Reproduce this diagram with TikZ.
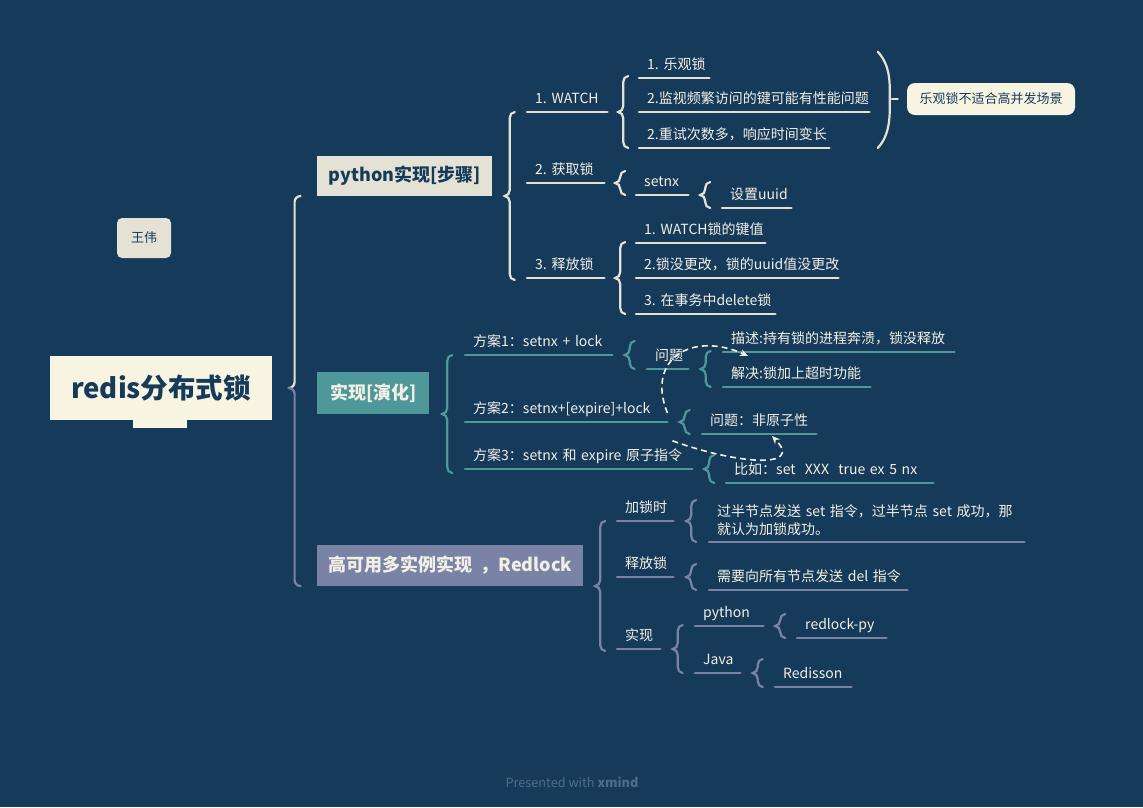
\documentclass[tikz,border=0pt]{standalone}
\usepackage{fontspec}
\setmainfont{Noto Sans CJK SC}
\usetikzlibrary{arrows.meta, calc, positioning}
\definecolor{bg}{HTML}{163B5A}
\definecolor{paper}{HTML}{F8F4E2}
\definecolor{sand}{HTML}{E4E1D5}
\definecolor{mmteal}{HTML}{4E9899}
\definecolor{lav}{HTML}{7A83A5}
\definecolor{ink}{HTML}{163B5A}
\definecolor{chalk}{HTML}{F2F0E6}
\definecolor{foot}{HTML}{4D6D8B}
\tikzstyle{topic} = [inner sep=0pt, font=\fontsize{18}{22}\selectfont\bfseries]
\tikzstyle{link} = [line width=1.6pt, chalk, dash pattern=on 6pt off 4pt, -{Stealth[length=8pt,width=7pt]}]
\tikzset{leaf/.style 2 args={anchor=south west, inner xsep=8pt, inner ysep=6pt, text depth=2pt, text width=#1-16pt, align=left, text=chalk, font=\fontsize{14}{18}\selectfont, append after command={(\tikzlastnode.south west) edge[draw=#2, line width=2.4pt, line cap=round] (\tikzlastnode.south east)}}}
\tikzset{br/.style={draw=#1, line width=2.2pt, line cap=round}}
% curly brace: colour, parent anchor, first child, last child
\newcommand\mmbrace[4]{%
  \draw[br=#1] let \p1=(#3.south west), \p2=(#4.south west), \p3=(#2),
    \n1={max(\y1,2*\y3-\y2)}, \n2={min(\y2,2*\y3-\y1)}, \n3={(\x1+\x3)/2} in
    (\n3+5pt,\n1+0pt) to[out=180,in=90] (\n3+0pt,\n1-6pt) -- (\n3+0pt,\y3+6pt)
    to[out=-90,in=0] (\n3-5pt,\y3) to[out=0,in=90] (\n3+0pt,\y3-6pt)
    -- (\n3+0pt,\n2+6pt) to[out=-90,in=180] (\n3+5pt,\n2+0pt);}

\begin{document}
\begin{tikzpicture}[x=1pt, y=-1pt]
\fill[bg] (0,0) rectangle (1143,807);

% central topic
\node[fill=paper, text=ink, font=\fontsize{27.5}{31}\selectfont\bfseries, minimum width=222, minimum height=64, inner sep=0pt] (root) at (161,388) {redis分布式锁};
\fill[paper] ($(root.south)+(-28,-2)$) rectangle ($(root.south)+(26,8)$);
\node[fill=sand, text=ink, rounded corners=5pt, minimum width=54, minimum height=40, font=\fontsize{13}{15}\selectfont] (auth) at (144,238) {王伟};

% main topics
\node[topic, fill=sand, text=ink, anchor=south west, minimum width=175, minimum height=40] (py) at (317,196) {python实现[步骤]};
\node[topic, fill=mmteal, text=chalk, anchor=south west, minimum width=112, minimum height=42] (impl) at (317,414) {实现[演化]};
\node[topic, fill=lav, text=chalk, anchor=south west, minimum width=266, minimum height=41] (rl) at (317,586) {高可用多实例实现\ \ ，Redlock};

\draw[br=sand] let \p1=(root.east), \p2=(py.south west), \n1={(\x1+\x2)/2} in
  (\n1+6pt,\y2) to[out=180,in=90] (\n1+0pt,\y2-6pt) -- (\n1+0pt,\y1+6pt) to[out=-90,in=0] (\n1-6pt,\y1);
\draw[br=lav] let \p1=(root.east), \p2=(rl.south west), \n1={(\x1+\x2)/2} in
  (\n1-6pt,\y1) to[out=0,in=90] (\n1+0pt,\y1-6pt) -- (\n1+0pt,\y2+6pt) to[out=-90,in=180] (\n1+6pt,\y2);

% python steps
\node[leaf={80}{sand}] (watch) at (527,112) {1.~WATCH};
\node[leaf={77}{sand}] (getlk) at (527,183) {2.~获取锁};
\node[leaf={77}{sand}] (rellk) at (527,278) {3.~释放锁};
\node[leaf={70}{sand}] (w1) at (639,78) {1.~乐观锁};
\node[leaf={230}{sand}] (w2) at (639,112) {2.监视频繁访问的键可能有性能问题};
\node[leaf={190}{sand}] (w3) at (639,148) {2.重试次数多，响应时间变长};
\node[leaf={52}{sand}] (setnx) at (636,195) {setnx};
\node[leaf={69}{sand}] (uuid) at (722,208) {设置uuid};
\node[leaf={129}{sand}] (r1) at (636,243) {1.~WATCH锁的键值};
\node[leaf={202}{sand}] (r2) at (636,278) {2.锁没更改，锁的uuid值没更改};
\node[leaf={139}{sand}] (r3) at (636,314) {3.~在事务中delete锁};
\node[fill=paper, text=ink, rounded corners=8pt, minimum width=168, minimum height=32, inner sep=0pt, font=\fontsize{13}{15}\selectfont] (sum) at (991,99) {乐观锁不适合高并发场景};

\mmbrace{sand}{py.south east}{watch}{rellk}
\mmbrace{sand}{watch.south east}{w1}{w3}
\mmbrace{sand}{getlk.south east}{setnx}{setnx}
\mmbrace{sand}{setnx.south east}{uuid}{uuid}
\mmbrace{sand}{rellk.south east}{r1}{r3}
\draw[br=sand] let \p1=(w1.north), \p2=(w3.south), \p3=(sum.west) in
  (\x3-29pt,\y1) .. controls (\x3-16pt,\y1-14pt) and (\x3-17pt,\y3+15pt) .. (\x3-17pt,\y3)
  .. controls (\x3-17pt,\y3-15pt) and (\x3-16pt,\y2+14pt) .. (\x3-29pt,\y2);
\draw[br=sand] let \p3=(sum.west) in (\x3-15pt,\y3) -- (\x3-9pt,\y3);

% evolution
\node[leaf={147}{mmteal}] (p1) at (465,355) {方案1：setnx~+~lock};
\node[leaf={202}{mmteal}] (p2) at (465,422) {方案2：setnx+[expire]+lock};
\node[leaf={227}{mmteal}] (p3) at (465,469) {方案3：setnx~和~expire~原子指令};
\node[leaf={41}{mmteal}] (q1) at (647,369) {问题};
\node[leaf={231}{mmteal}] (d1) at (723,352) {描述:持有锁的进程奔溃，锁没释放};
\node[leaf={147}{mmteal}] (d2) at (723,387) {解决:锁加上超时功能};
\node[leaf={114}{mmteal}] (q2) at (702,434) {问题：非原子性};
\node[leaf={207}{mmteal}] (ex) at (726,483) {比如：set~~XXX~~true~ex~5~nx};

\mmbrace{mmteal}{impl.south east}{p1}{p3}
\mmbrace{mmteal}{p1.south east}{q1}{q1}
\mmbrace{mmteal}{q1.south east}{d1}{d2}
\mmbrace{mmteal}{p2.south east}{q2}{q2}
\mmbrace{mmteal}{p3.south east}{ex}{ex}

\draw[link] ($(p2.south east)+(0,-9)$) .. controls +(-22,-55) and +(-55,-25) .. ($(d1.south west)+(25,4)$);
\draw[link] ($(p3.north east)+(-20,-2)$) .. controls +(63,23) and +(33,34) .. ($(q2.south west)+(70,2)$);

% redlock
\node[leaf={56}{lav}] (lk) at (617,521) {加锁时};
\node[leaf={56}{lav}] (ulk) at (617,577) {释放锁};
\node[leaf={43}{lav}] (im) at (617,649) {实现};
\node[leaf={315}{lav}, text depth=] (lkd) at (709,542) {过半节点发送~set~指令，过半节点~set~成功，那\\就认为加锁成功。};
\node[leaf={198}{lav}] (uld) at (709,590) {需要向所有节点发送~del~指令};
\node[leaf={68}{lav}] (pyi) at (695,626) {python};
\node[leaf={45}{lav}] (jv) at (695,673) {Java};
\node[leaf={89}{lav}] (rpy) at (797,638) {redlock-py};
\node[leaf={76}{lav}] (rds) at (775,687) {Redisson};

\mmbrace{lav}{rl.south east}{lk}{im}
\mmbrace{lav}{lk.south east}{lkd}{lkd}
\mmbrace{lav}{ulk.south east}{uld}{uld}
\mmbrace{lav}{im.south east}{pyi}{jv}
\mmbrace{lav}{pyi.south east}{rpy}{rpy}
\mmbrace{lav}{jv.south east}{rds}{rds}

\node[text=foot, font=\fontsize{12.7}{15}\selectfont] (brand) at (572,782) {Presented with \textbf{xmind}};
\end{tikzpicture}
\end{document}
